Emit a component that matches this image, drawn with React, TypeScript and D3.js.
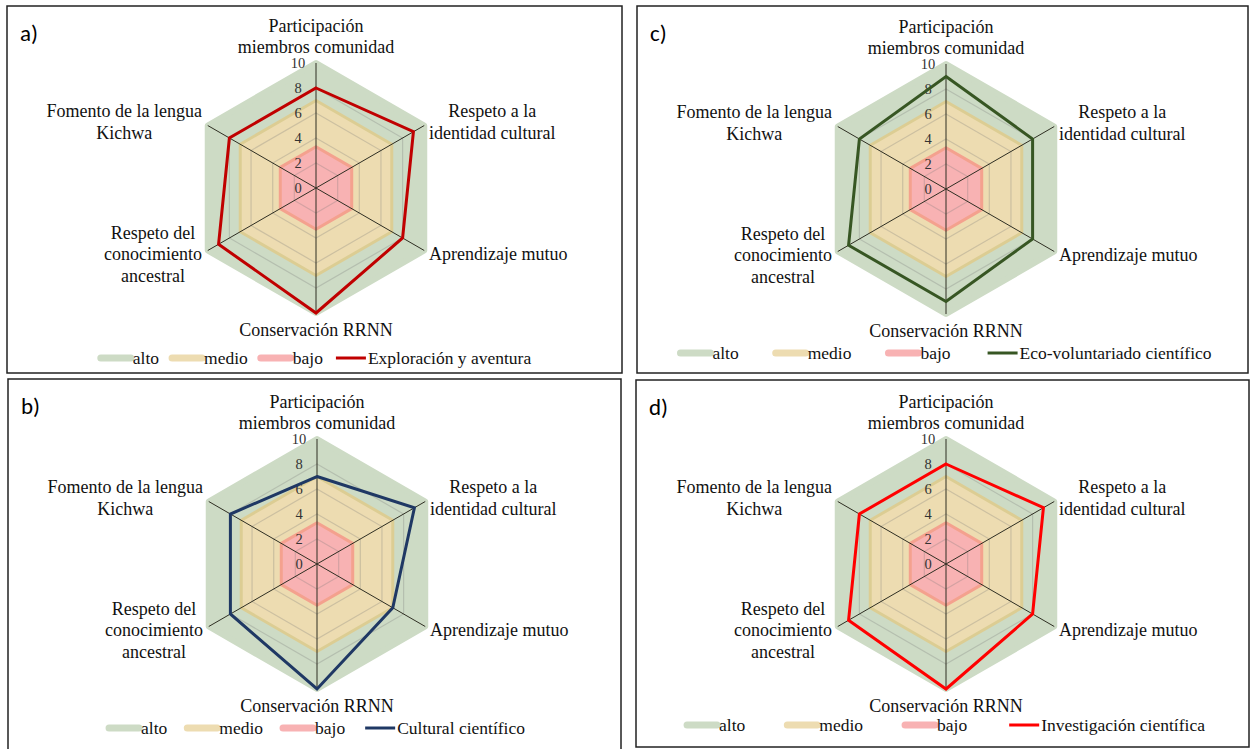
import React from "react";
import * as d3 from "d3";

const categoryLines: string[][] = [
  ["Participación", "miembros comunidad"],
  ["Respeto a la", "identidad cultural"],
  ["Aprendizaje mutuo"],
  ["Conservación RRNN"],
  ["Respeto del", "conocimiento", "ancestral"],
  ["Fomento de la lengua", "Kichwa"],
];
const tickValues = [0, 2, 4, 6, 8, 10];
const gridValues = [2, 4, 6, 8];
const altoValues = [10, 10, 10, 10, 10, 10];
const medioValues = [7, 7, 7, 7, 7, 7];
const bajoValues = [3.3, 3.3, 3.3, 3.3, 3.3, 3.3];
const exploracionValues = [8, 9, 8, 10, 9, 8];
const culturalValues = [7, 9, 7, 10, 8, 8];
const ecoValues = [9, 8, 8, 9, 9, 8];
const investigacionValues = [8, 9, 8, 10, 9, 8];
const bandNames = ["alto", "medio", "bajo"];

const W = 1251;
const H = 749;
const SERIF = "Liberation Serif";

const bandStyle = [
  { fill: "#cddbc5", stroke: "#cddbc5", sw: 6 },
  { fill: "#eddcb1", stroke: "#dccd93", sw: 3 },
  { fill: "#f8b2b3", stroke: "#f4a18e", sw: 3 },
];

const panels = [
  { tag: "a)", rect: [7, 6, 615, 367], cx: 316, cy: 188, values: exploracionValues, name: "Exploración y aventura", color: "#c00000", legendY: 358, gap: 13 },
  { tag: "c)", rect: [637, 6, 611, 367], cx: 946, cy: 189, values: ecoValues, name: "Eco-voluntariado científico", color: "#375623", legendY: 353, gap: 37 },
  { tag: "b)", rect: [8, 379, 613, 374], cx: 317, cy: 564, values: culturalValues, name: "Cultural científico", color: "#1f3864", legendY: 728, gap: 20 },
  { tag: "d)", rect: [636, 380, 613, 367], cx: 946, cy: 564, values: investigacionValues, name: "Investigación científica", color: "#ff0000", legendY: 725, gap: 42 },
];

let ctx: CanvasRenderingContext2D | null = null;
function measure(text: string, size: number): number {
  if (!ctx && typeof document !== "undefined") {
    ctx = document.createElement("canvas").getContext("2d");
  }
  if (!ctx) return text.length * size * 0.45;
  ctx.font = `${size}px "${SERIF}"`;
  return ctx.measureText(text).width;
}

const r = d3.scaleLinear().domain([0, 10]).range([0, 125]);
const n = categoryLines.length;
const ang = (i: number) => (i * 2 * Math.PI) / n;
const radial = d3
  .lineRadial<number>()
  .angle((_, i) => ang(i))
  .radius((v) => r(v))
  .curve(d3.curveLinearClosed);

const LH = 21.5;
const FS = 18;
const LFS = 17.5;

function Panel({ p }: { p: (typeof panels)[number] }) {
  const [x, y, w, h] = p.rect;
  const labels = categoryLines.map((lines, i) => {
    const maxW = Math.max(...lines.map((t) => measure(t, FS)));
    const blockH = (lines.length - 1) * LH;
    let bx = 0;
    let firstY = 0;
    if (i === 0) { bx = 0; firstY = -141 - blockH; }
    else if (i === 3) { bx = 0; firstY = 142; }
    else if (i === 1 || i === 2) { bx = 113 + maxW / 2; firstY = (i === 1 ? -66 : 66) - blockH / 2; }
    else { bx = -114 - maxW / 2; firstY = (i === 5 ? -66 : 66) - blockH / 2; }
    return lines.map((t, j) => (
      <text key={`${i}-${j}`} x={bx} y={firstY + j * LH} textAnchor="middle" dominantBaseline="central"
        fontFamily={SERIF} fontSize={FS} fill="#111">{t}</text>
    ));
  });

  const items = [
    { label: bandNames[0], color: "#cddbc5", sw: 7 },
    { label: bandNames[1], color: "#eddcb1", sw: 7 },
    { label: bandNames[2], color: "#f8b2b3", sw: 7 },
    { label: p.name, color: p.color, sw: 3 },
  ];
  const SWL = 30;
  let cursor = 0;
  const legendEls = items.map((it, k) => {
    const sx = cursor;
    const tw = measure(it.label, LFS);
    cursor = sx + SWL + 2 + tw + (k < items.length - 1 ? p.gap : 0);
    return (
      <g key={it.label}>
        <line x1={sx} x2={sx + SWL} y1={p.legendY} y2={p.legendY} stroke={it.color} strokeWidth={it.sw}
          strokeLinecap={it.sw > 4 ? "round" : "butt"} />
        <text x={sx + SWL + 2} y={p.legendY} dominantBaseline="central" fontFamily={SERIF} fontSize={LFS}
          fill="#111">{it.label}</text>
      </g>
    );
  });
  const legendX = p.cx - cursor / 2;

  return (
    <g>
      <rect x={x} y={y} width={w} height={h} fill="#fff" stroke="#222" strokeWidth={1.5} />
      <text x={x + 13} y={y + 27} dominantBaseline="central" fontFamily="Carlito" fontSize={23} fill="#000">{p.tag}</text>
      <g transform={`translate(${p.cx},${p.cy})`}>
        {[altoValues, medioValues, bajoValues].map((vals, k) => (
          <path key={k} d={radial(vals) || ""} fill={bandStyle[k].fill} stroke={bandStyle[k].stroke}
            strokeWidth={bandStyle[k].sw} strokeLinejoin="round" />
        ))}
        {gridValues.map((gv) => (
          <path key={gv} d={radial(new Array(n).fill(gv)) || ""} fill="none" stroke="rgba(120,120,120,0.28)" strokeWidth={1.2} />
        ))}
        {categoryLines.map((_, i) => (
          <line key={i} x1={0} y1={0} x2={Math.sin(ang(i)) * r(10)} y2={-Math.cos(ang(i)) * r(10)}
            stroke="#2e2e22" strokeWidth={1} />
        ))}
        {tickValues.map((tv) => (
          <text key={tv} x={-18} y={-r(tv)} textAnchor="middle" dominantBaseline="central" fontFamily={SERIF}
            fontSize={14.5} fill="#333">{tv}</text>
        ))}
        <path d={radial(p.values) || ""} fill="none" stroke={p.color} strokeWidth={3} strokeLinejoin="miter" />
        {labels}
      </g>
      <g transform={`translate(${legendX},0)`}>{legendEls}</g>
    </g>
  );
}

export default function App() {
  return (
    <svg width={W} height={H} style={{ position: "absolute", left: 0, top: 0, display: "block" }}>
      <rect width={W} height={H} fill="#ffffff" />
      {panels.map((p) => <Panel key={p.tag} p={p} />)}
    </svg>
  );
}
